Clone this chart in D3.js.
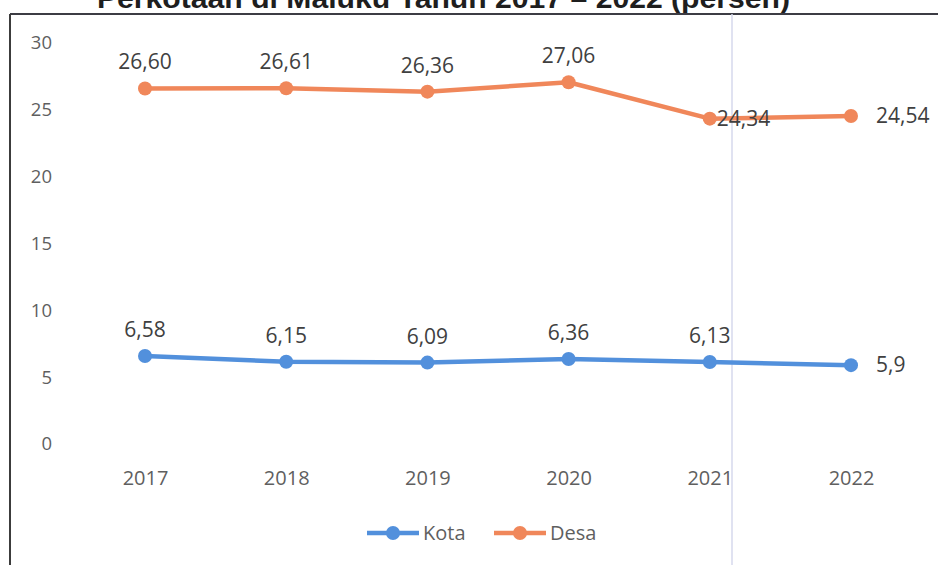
<!DOCTYPE html>
<html>
<head>
<meta charset="utf-8">
<script src="https://cdn.jsdelivr.net/npm/d3@7"></script>
<style>
	body { margin: 0; background: #ffffff; }
	text { font-family: "Open Sans", "Liberation Sans", sans-serif; }
</style>
</head>
<body>
<div id="chart"></div>
<script>

// data chart
var years = ["2017", "2018", "2019", "2020", "2021", "2022"];
var kotaValues = [6.58, 6.15, 6.09, 6.36, 6.13, 5.9];
var desaValues = [26.60, 26.61, 26.36, 27.06, 24.34, 24.54];
var kotaLabels = ["6,58", "6,15", "6,09", "6,36", "6,13", "5,9"];
var desaLabels = ["26,60", "26,61", "26,36", "27,06", "24,34", "24,54"];
var kotaPlace = ["top", "top", "top", "top", "top", "right"];
var desaPlace = ["top", "top", "top", "top", "inside", "right"];
var yTicks = [0, 5, 10, 15, 20, 25, 30];
var titleText = "Perkotaan di Maluku Tahun 2017 \u2013 2022 (persen)";

// size and colors
var width = 938,
	height = 565;

var colorKota = "#5290dc",
	colorDesa = "#f0875a";

var svg = d3.select("#chart")
	.append("svg")
	.attr("width", width)
	.attr("height", height);

// scales
var x = d3.scalePoint()
	.domain(years)
	.range([145, 851]);

var y = d3.scaleLinear()
	.domain([0, 30])
	.range([444, 43]);

// title (cut off at the top, as in the scan) and frame
svg.append("text")
	.attr("x", 97)
	.attr("y", 8)
	.attr("textLength", 693)
	.attr("lengthAdjust", "spacingAndGlyphs")
	.style("font-family", "'Liberation Sans', Arial, sans-serif")
	.style("font-weight", "bold")
	.style("font-size", "28px")
	.attr("fill", "#1e1e1e")
	.text(titleText);

svg.append("line")
	.attr("x1", 10)
	.attr("x2", width)
	.attr("y1", 14)
	.attr("y2", 14)
	.attr("stroke", "#3c3c44")
	.attr("stroke-width", 2);

svg.append("line")
	.attr("x1", 10)
	.attr("x2", 10)
	.attr("y1", 14)
	.attr("y2", height)
	.attr("stroke", "#3c3c3c")
	.attr("stroke-width", 2);

svg.append("line")
	.attr("x1", 732)
	.attr("x2", 732)
	.attr("y1", 14)
	.attr("y2", height)
	.attr("stroke", "#d6d9ec")
	.attr("stroke-width", 1.5);

// y axis labels
var yAxis = svg.append("g")
	.attr("transform", "translate(52,0)")
	.call(d3.axisLeft(y)
		.tickValues(yTicks)
		.tickSize(0)
		.tickPadding(0));

yAxis.select(".domain").remove();
yAxis.selectAll("text")
	.style("font-size", "18.5px")
	.attr("fill", "#5f5f5f");

// x axis labels
var xAxis = svg.append("g")
	.attr("transform", "translate(0,471)")
	.call(d3.axisBottom(x)
		.tickSize(0)
		.tickPadding(0));

xAxis.select(".domain").remove();
xAxis.selectAll("text")
	.style("font-size", "20px")
	.attr("fill", "#5f5f5f");

// draws one series with markers and labels
function drawSeries(values, labels, place, color){

	var points = years.map(function(d, i){

		return {year: d, value: values[i], label: labels[i], place: place[i]};
	});

	var line = d3.line()
		.x(function(d){

			return x(d.year);
		})
		.y(function(d){

			return y(d.value);
		});

	svg.append("path")
		.datum(points)
		.attr("d", line)
		.attr("fill", "none")
		.attr("stroke", color)
		.attr("stroke-width", 4.5)
		.attr("stroke-linejoin", "round");

	svg.append("g")
		.selectAll("circle")
		.data(points)
		.enter()
		.append("circle")
		.attr("cx", function(d){

			return x(d.year);
		})
		.attr("cy", function(d){

			return y(d.value);
		})
		.attr("r", 7)
		.attr("fill", color);

	svg.append("g")
		.selectAll("text")
		.data(points)
		.enter()
		.append("text")
		.attr("x", function(d){

			if (d.place == "right") return x(d.year) + 25;
			if (d.place == "inside") return x(d.year) + 7;
			return x(d.year);
		})
		.attr("y", function(d){

			if (d.place == "top") return y(d.value) - 19;
			return y(d.value) + 7;
		})
		.attr("text-anchor", function(d){

			return d.place == "top" ? "middle" : "start";
		})
		.style("font-size", "21px")
		.attr("fill", "#404040")
		.text(function(d){

			return d.label;
		});
}

drawSeries(kotaValues, kotaLabels, kotaPlace, colorKota);
drawSeries(desaValues, desaLabels, desaPlace, colorDesa);

// legend
var legendData = [
	{name: "Kota", color: colorKota, x: 367},
	{name: "Desa", color: colorDesa, x: 494}
];

var legend = svg.append("g")
	.selectAll("g")
	.data(legendData)
	.enter()
	.append("g")
	.attr("transform", function(d){

		return "translate(" + d.x + ",533)";
	});

legend.append("line")
	.attr("x1", 0)
	.attr("x2", 52)
	.attr("stroke", function(d){

		return d.color;
	})
	.attr("stroke-width", 4.5);

legend.append("circle")
	.attr("cx", 26)
	.attr("r", 7)
	.attr("fill", function(d){

		return d.color;
	});

legend.append("text")
	.attr("x", 56)
	.attr("y", 7)
	.style("font-size", "20px")
	.attr("fill", "#5f5f5f")
	.text(function(d){

		return d.name;
	});

</script>
</body>
</html>
